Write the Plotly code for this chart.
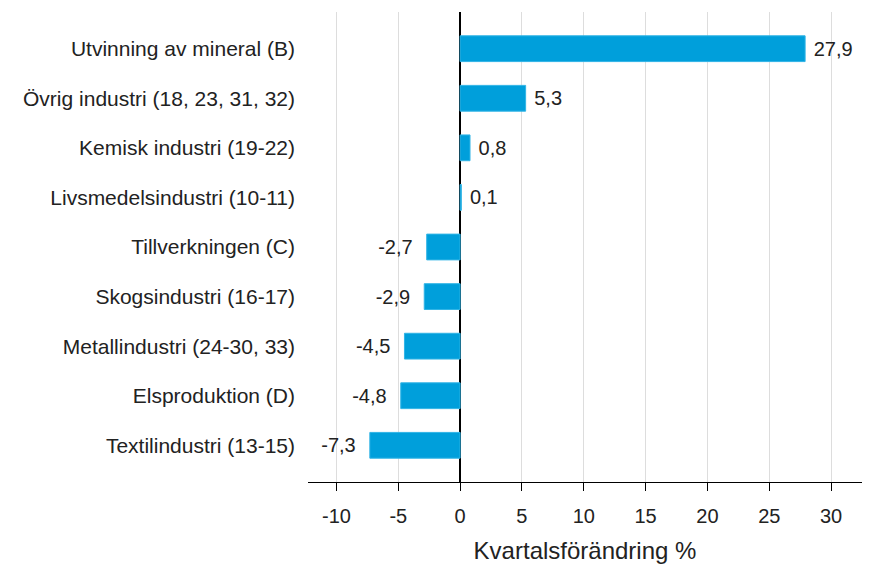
import plotly.graph_objects as go

categories = [
    "Utvinning av mineral (B)",
    "Övrig industri (18, 23, 31, 32)",
    "Kemisk industri (19-22)",
    "Livsmedelsindustri (10-11)",
    "Tillverkningen (C)",
    "Skogsindustri (16-17)",
    "Metallindustri (24-30, 33)",
    "Elsproduktion (D)",
    "Textilindustri (13-15)",
]
values = [27.9, 5.3, 0.8, 0.1, -2.7, -2.9, -4.5, -4.8, -7.3]
tick_vals = [-10, -5, 0, 5, 10, 15, 20, 25, 30]

NBSP = "\u00a0"
labels = [
    (NBSP + f"{v:.1f}".replace(".", ",")) if v >= 0 else (f"{v:.1f}".replace(".", ",") + NBSP * 2)
    for v in values
]

FONT = "Liberation Sans, Arial"

fig = go.Figure(
    go.Bar(
        x=values,
        y=categories,
        orientation="h",
        width=0.52,
        marker=dict(color="#009fdb", line=dict(color="#30b4e6", width=1)),
        text=labels,
        textposition="outside",
        textfont=dict(size=20, color="#222222", family=FONT),
        cliponaxis=False,
    )
)

# The page body adds an 8px offset, margins compensate for it.
fig.update_layout(
    width=875,
    height=573,
    margin=dict(l=300, r=21, t=4, b=99),
    paper_bgcolor="white",
    plot_bgcolor="white",
    font=dict(family=FONT, size=20, color="#222222"),
    showlegend=False,
    xaxis=dict(
        range=[-12.3, 32.5],
        tickvals=tick_vals,
        ticktext=[str(t) for t in tick_vals],
        showgrid=True,
        gridcolor="#dddddd",
        gridwidth=1,
        zeroline=True,
        zerolinecolor="black",
        zerolinewidth=1.5,
        showline=True,
        linecolor="black",
        linewidth=1,
        ticks="outside",
        ticklen=8,
        tickcolor="black",
        tickfont=dict(size=20),
        ticklabelstandoff=8,
        title=dict(text="Kvartalsförändring %", font=dict(size=24), standoff=16),
    ),
    yaxis=dict(
        autorange=False,
        range=[8.74, -0.74],
        showgrid=False,
        showline=False,
        ticks="",
        ticklabelstandoff=12,
        tickfont=dict(size=21),
    ),
)

fig.write_html("out.html")
